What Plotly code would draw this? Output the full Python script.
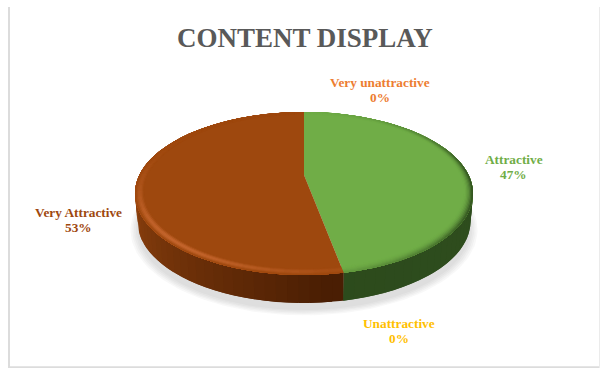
import math
import numpy as np
import plotly.graph_objects as go

# Survey shares, in the clockwise drawing order starting at twelve o'clock
categories = ["Very unattractive", "Attractive", "Unattractive", "Very Attractive"]
shares = [0, 47, 0, 53]
top_colors = ["#ED7D31", "#70AD47", "#FFC000", "#9E480E"]
label_colors = ["#ED7D31", "#70AD47", "#FFC000", "#9E480E"]
title_text = "CONTENT DISPLAY"

WIDTH, HEIGHT = 600, 368

# Perspective disc: a unit circle seen from above and in front
CX = 304.0
APEX_Y = 175.0
PERSP = -0.227
TILT = 37.6
RADIUS_X = 164.6
DEPTH = 28.0


def project(u, v, drop=0.0, shrink=1.0):
    d = 1 + PERSP * v
    x = CX + shrink * RADIUS_X * u / d
    y = (TILT * v + APEX_Y) / d + drop
    return x, y


def hex_rgb(c):
    return tuple(int(c[i:i + 2], 16) for i in (1, 3, 5))


def mix(a, b, t):
    t = max(0.0, min(1.0, t))
    ra, rb = hex_rgb(a), hex_rgb(b)
    return "#%02x%02x%02x" % tuple(round(p + (q - p) * t) for p, q in zip(ra, rb))


def poly(fig, xs, ys, color):
    fig.add_trace(go.Scatter(
        x=list(xs), y=list(ys), mode="lines", fill="toself", fillcolor=color,
        line=dict(width=0), hoverinfo="skip", showlegend=False,
    ))


def side_shade(name, th):
    # th: clockwise angle from twelve o'clock, in degrees
    if name == "Very Attractive":
        t = (th - 175) / 95
        return mix("#4a1e03", "#95450f", t ** 0.9 if t > 0 else 0)
    return mix("#2c4a1c", "#2f4e1e", (180 - th) / 90)


def rim_shade(name, base, th, f):
    # f: 0 at the inner edge of the bevel, 1 at the outer edge
    if name == "Very Attractive":
        glow = math.exp(-((th - 222) / 42) ** 2) * math.sin(math.pi * min(f * 1.02, 1.0)) ** 1.5
        return mix(base, "#c4652d", glow)
    dark = math.exp(-((th - 100) / 55) ** 2) * f ** 1.8
    return mix(base, "#2c4a1c", dark)


fig = go.Figure()

# Soft ground shadow, stacked translucent outlines
phi = np.radians(np.linspace(0, 360, 181))
for grow in [1.04, 1.03, 1.02, 1.01, 1.0]:
    sx, sy = project(np.sin(phi) * grow, -np.cos(phi) * grow, drop=DEPTH + 7, shrink=0.985)
    poly(fig, sx, sy, "rgba(120,120,120,0.05)")

# Slice spans derived from the shares
total = sum(shares)
spans = []
start = 0.0
for name, share, color in zip(categories, shares, top_colors):
    sweep = 360.0 * share / total
    if sweep > 0:
        spans.append((name, start, start + sweep, color))
    start += sweep

# Side wall, only the front half of the disc shows; each strip runs
# under the next one so no seams appear between them
for name, a0, a1, color in spans:
    lo, hi = max(a0, 80.0), min(a1, 280.0)
    steps = max(1, int((hi - lo) / 3))
    edges = np.linspace(lo, hi, steps + 1)
    for i, e0 in enumerate(edges[:-1]):
        e1 = edges[min(i + 2, steps)]
        arc = np.radians(np.linspace(e0, e1, 7))
        tx, ty = project(np.sin(arc), -np.cos(arc))
        bx, by = project(np.sin(arc), -np.cos(arc), drop=DEPTH, shrink=0.985)
        poly(fig, np.r_[tx, bx[::-1]], np.r_[ty, by[::-1]],
             side_shade(name, (e0 + edges[i + 1]) / 2))

# Flat top of each slice
for name, a0, a1, color in spans:
    arc = np.radians(np.linspace(a0, a1, 121))
    fx, fy = project(np.sin(arc), -np.cos(arc))
    ax, ay = project(np.array([0.0]), np.array([0.0]))
    poly(fig, np.r_[ax, fx], np.r_[ay, fy], color)

# Bevel around the rim of the top face, painted from its inner edge outward
BEVEL = 0.05
RINGS = 7
for ring in range(RINGS):
    r0 = 1 - BEVEL * (RINGS - ring) / RINGS
    f = (ring + 0.5) / RINGS
    for name, a0, a1, color in spans:
        steps = max(1, int((a1 - a0) / 4))
        edges = np.linspace(a0, a1, steps + 1)
        for i, e0 in enumerate(edges[:-1]):
            e1 = edges[min(i + 2, steps)]
            th = (e0 + edges[i + 1]) / 2
            arc = np.radians(np.linspace(e0, e1, 5))
            ix, iy = project(r0 * np.sin(arc), -r0 * np.cos(arc))
            ox, oy = project(np.sin(arc), -np.cos(arc))
            poly(fig, np.r_[ix, ox[::-1]], np.r_[iy, oy[::-1]],
                 rim_shade(name, color, th, f))

# Data labels beside the disc: name line and percentage line
label_at = {
    "Very unattractive": (380, 90),
    "Attractive": (513.5, 167),
    "Unattractive": (399, 330.5),
    "Very Attractive": (78, 220),
}
for name, share, color in zip(categories, shares, label_colors):
    lx, ly = label_at[name]
    for line, dy in ((name, -7.5), (f"{share}%", 7.5)):
        fig.add_annotation(
            x=lx, y=ly + dy, xref="x", yref="y", showarrow=False,
            text=f"<b>{line}</b>",
            font=dict(family="Liberation Serif", size=13.3, color=color),
        )

fig.add_annotation(
    x=304.5, y=38, xref="x", yref="y", showarrow=False,
    text=f"<b>{title_text}</b>",
    font=dict(family="Liberation Serif", size=27, color="#595959"),
)

# Chart frame, open along the top
frame = "#dcdcdc"
fig.add_shape(type="line", x0=9, x1=9, y0=7, y1=367.5,
              line=dict(color=frame, width=2), layer="below")
fig.add_shape(type="line", x0=8, x1=600, y0=367.2, y1=367.2,
              line=dict(color=frame, width=2), layer="below")
fig.add_shape(type="line", x0=599.5, x1=599.5, y0=7, y1=368,
              line=dict(color="#ebebeb", width=1), layer="below")

fig.update_layout(
    width=WIDTH, height=HEIGHT, margin=dict(l=0, r=0, t=0, b=0),
    paper_bgcolor="white", plot_bgcolor="white", showlegend=False,
    xaxis=dict(range=[0, WIDTH], visible=False, fixedrange=True),
    yaxis=dict(range=[HEIGHT, 0], visible=False, fixedrange=True),
)
fig.write_html("out.html", config={"displayModeBar": False})
